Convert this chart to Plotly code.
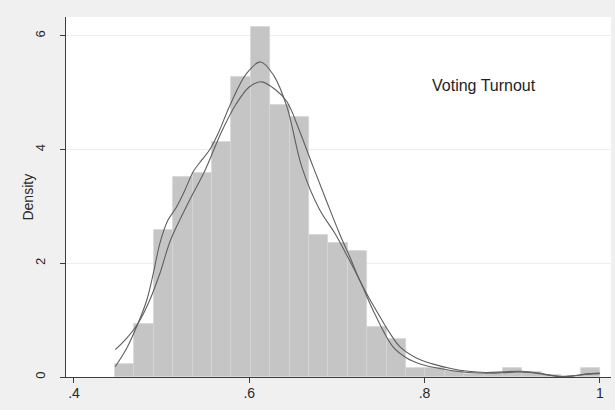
import plotly.graph_objects as go

# Histogram (density) of voting turnout
bin_start = 0.4468
bin_width = 0.02213
bar_heights = [0.22, 0.94, 2.58, 3.51, 3.58, 4.13, 5.28, 6.15, 4.78, 4.57,
               2.49, 2.36, 2.22, 0.88, 0.66, 0.16, 0.16, 0.11, 0.06, 0.06,
               0.16, 0.09, 0.03, 0.01, 0.16]

# Kernel density curve, narrow bandwidth
kde_narrow_x = [0.447, 0.46, 0.473, 0.483, 0.4905, 0.498, 0.507, 0.517, 0.527, 0.536,
                0.545, 0.555, 0.565, 0.578, 0.597, 0.613, 0.628, 0.643, 0.66, 0.68,
                0.698, 0.712, 0.726, 0.743, 0.764, 0.78, 0.795, 0.81, 0.832, 0.85,
                0.871, 0.889, 0.905, 0.92, 0.935, 0.955, 0.97, 0.985, 1.0]
kde_narrow_y = [0.18, 0.50, 0.94, 1.35, 1.82, 2.35, 2.75, 2.99, 3.30, 3.61,
                3.80, 4.00, 4.30, 4.78, 5.34, 5.54, 5.30, 4.75, 3.69, 2.95,
                2.52, 2.12, 1.70, 1.115, 0.53, 0.33, 0.23, 0.17, 0.11, 0.08,
                0.065, 0.075, 0.09, 0.08, 0.05, 0.005, 0.02, 0.05, 0.06]

# Kernel density curve, wide bandwidth
kde_wide_x = [0.447, 0.46, 0.473, 0.485, 0.498, 0.51, 0.53, 0.55, 0.568, 0.585,
              0.60, 0.614, 0.63, 0.643, 0.658, 0.673, 0.688, 0.703, 0.715, 0.726,
              0.737, 0.747, 0.76, 0.772, 0.79, 0.808, 0.83, 0.85, 0.87, 0.89,
              0.91, 0.93, 0.945, 0.958, 0.975, 0.99, 1.0]
kde_wide_y = [0.48, 0.68, 0.94, 1.30, 1.82, 2.40, 3.05, 3.65, 4.30, 4.80,
              5.10, 5.19, 5.05, 4.84, 4.30, 3.69, 3.10, 2.52, 2.10, 1.70,
              1.38, 1.115, 0.78, 0.53, 0.34, 0.235, 0.15, 0.10, 0.08, 0.09,
              0.10, 0.07, 0.03, 0.01, 0.03, 0.06, 0.07]

x_ticks = [0.4, 0.6, 0.8, 1.0]
x_tick_labels = [".4", ".6", ".8", "1"]
y_ticks = [0, 2, 4, 6]
y_tick_labels = ["0", "2", "4", "6"]

bin_centers = [bin_start + bin_width * (i + 0.5) for i in range(len(bar_heights))]

FONT = "Liberation Sans, Arial, sans-serif"

fig = go.Figure()
fig.add_trace(go.Bar(
    x=bin_centers, y=bar_heights, width=bin_width,
    marker=dict(color="rgb(197,197,197)", line=dict(color="rgb(212,212,212)", width=0.8)),
    showlegend=False, hoverinfo="skip"))
fig.add_trace(go.Scatter(
    x=kde_narrow_x, y=kde_narrow_y, mode="lines",
    line=dict(color="rgb(95,95,95)", width=1.1, shape="spline", smoothing=1.0),
    showlegend=False))
fig.add_trace(go.Scatter(
    x=kde_wide_x, y=kde_wide_y, mode="lines",
    line=dict(color="rgb(95,95,95)", width=1.1, shape="spline", smoothing=1.0),
    showlegend=False))

fig.add_annotation(x=0.868, y=5.13, text="Voting Turnout", showarrow=False,
                   font=dict(family=FONT, size=16, color="rgb(30,30,30)"))

# y-axis title placed as rotated text
fig.add_annotation(xref="paper", yref="paper", x=-0.0706, y=0.5, text="Density",
                   showarrow=False, textangle=-90, xanchor="center", yanchor="middle",
                   font=dict(family=FONT, size=14, color="rgb(40,40,40)"))

fig.update_layout(
    width=615, height=410,
    margin=dict(l=66, r=4, t=17, b=33),
    paper_bgcolor="rgb(240,240,240)",
    plot_bgcolor="white",
    bargap=0,
    font=dict(family=FONT, size=12, color="rgb(40,40,40)"),
    xaxis=dict(
        range=[0.3909, 1.0127], tickvals=x_ticks, ticktext=x_tick_labels,
        showgrid=False, zeroline=False, showline=True, linecolor="rgb(60,60,60)",
        linewidth=1, ticks="outside", ticklen=5, tickcolor="rgb(60,60,60)",
        tickfont=dict(size=14), ticklabelstandoff=-2),
    yaxis=dict(
        range=[0, 6.33], tickvals=y_ticks, ticktext=y_tick_labels, tickangle=-90,
        showgrid=True, gridcolor="rgb(238,238,238)", gridwidth=1,
        zeroline=False, showline=True, linecolor="rgb(60,60,60)", linewidth=1,
        ticks="outside", ticklen=5, tickcolor="rgb(60,60,60)",
        tickfont=dict(size=13), ticklabelstandoff=10),
)

fig.write_html(
    "out.html",
    config={"displayModeBar": False},
    post_script="document.body.style.margin='0px';document.body.style.background='rgb(240,240,240)';",
)
